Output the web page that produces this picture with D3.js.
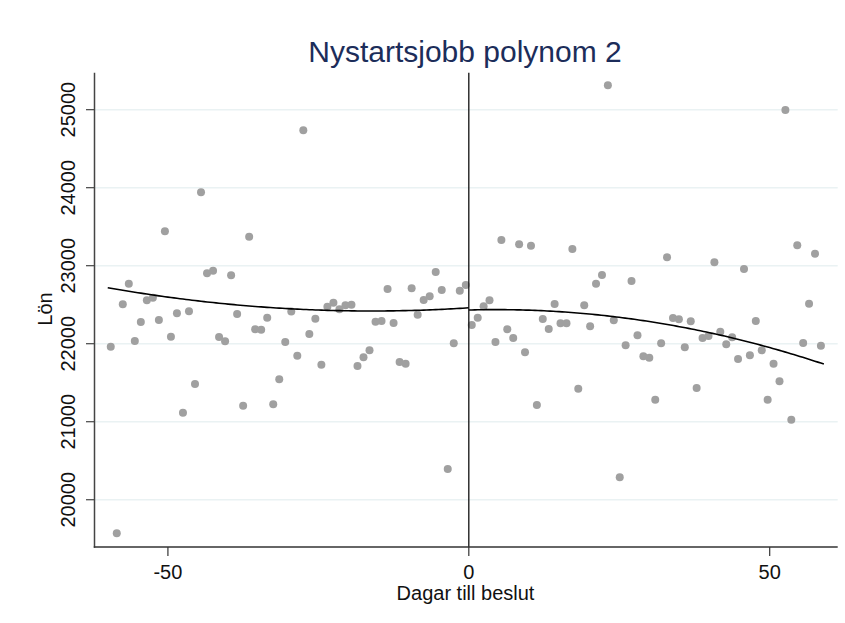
<!DOCTYPE html>
<html>
<head>
<meta charset="utf-8">
<script src="https://cdn.jsdelivr.net/npm/d3@7/dist/d3.min.js"></script>
<style>
  body { margin: 0; background: #fff; }
  svg text { font-family: "Liberation Sans", Arial, sans-serif; }
</style>
</head>
<body>
<svg id="chart" width="845" height="623"></svg>
<script>
// Binned means
const leftDays = [
    -59.5, -58.5, -57.5, -56.5, -55.5, -54.5, -53.5, -52.5, -51.5, -50.5,
    -49.5, -48.5, -47.5, -46.5, -45.5, -44.5, -43.5, -42.5, -41.5, -40.5,
    -39.5, -38.5, -37.5, -36.5, -35.5, -34.5, -33.5, -32.5, -31.5, -30.5,
    -29.5, -28.5, -27.5, -26.5, -25.5, -24.5, -23.5, -22.5, -21.5, -20.5,
    -19.5, -18.5, -17.5, -16.5, -15.5, -14.5, -13.5, -12.5, -11.5, -10.5,
    -9.5, -8.5, -7.5, -6.5, -5.5, -4.5, -3.5, -2.5, -1.5, -0.5
];
const leftWage = [
    21962, 19569, 22505, 22769, 22035, 22278, 22556, 22590, 22304, 23441,
    22090, 22390, 21115, 22415, 21483, 23941, 22903, 22936, 22086, 22031,
    22877, 22381, 21205, 23372, 22185, 22180, 22333, 21223, 21544, 22022,
    22412, 21846, 24736, 22124, 22321, 21731, 22474, 22526, 22441, 22492,
    22500, 21714, 21826, 21915, 22282, 22291, 22701, 22265, 21765, 21744,
    22710, 22372, 22560, 22608, 22919, 22688, 20394, 22005, 22679, 22752
];
const rightDays = [
    0.49, 1.48, 2.46, 3.44, 4.43, 5.41, 6.39, 7.38, 8.36, 9.34,
    10.33, 11.31, 12.29, 13.28, 14.26, 15.24, 16.23, 17.21, 18.19, 19.18,
    20.16, 21.14, 22.13, 23.11, 24.09, 25.08, 26.06, 27.04, 28.03, 29.01,
    29.99, 30.98, 31.96, 32.94, 33.93, 34.91, 35.89, 36.88, 37.86, 38.84,
    39.83, 40.81, 41.79, 42.78, 43.76, 44.74, 45.73, 46.71, 47.69, 48.68,
    49.66, 50.64, 51.63, 52.61, 53.59, 54.58, 55.56, 56.54, 57.53, 58.51
];
const rightWage = [
    22240, 22333, 22479, 22556, 22022, 23329, 22185, 22073, 23274, 21890,
    23256, 21214, 22317, 22188, 22509, 22261, 22261, 23214, 21423, 22492,
    22223, 22769, 22881, 25313, 22300, 20287, 21979, 22804, 22108, 21838,
    21821, 21282, 22005, 23108, 22329, 22313, 21954, 22287, 21432, 22073,
    22099, 23044, 22154, 21992, 22082, 21804, 22958, 21851, 22291, 21915,
    21282, 21744, 21518, 24996, 21026, 23262, 22009, 22513, 23154, 21974
];
// quadratic fits (fitted on the underlying data), coefficients:
// wage = c0 + c1*day + c2*day^2
const leftFit = [22460, 5.03, 0.1556];
const rightFit = [22432, 2.14, -0.2355];
const leftRange = [-60, 0];
const rightRange = [0, 59];
const xTicks = [-50, 0, 50];
const yTicks = [20000, 21000, 22000, 23000, 24000, 25000];

const svg = d3.select('#chart');
const plotLeft = 94.5, plotRight = 837.7, plotTop = 72.7, plotBottom = 547;

const x = d3.scaleLinear().domain([-62.2, 61.3]).range([plotLeft, plotRight]);
const y = d3.scaleLinear().domain([19394, 25474]).range([plotBottom, plotTop]);

// gridlines
svg.append('g').selectAll('line')
    .data(yTicks)
    .join('line')
    .attr('x1', plotLeft).attr('x2', plotRight)
    .attr('y1', d => y(d)).attr('y2', d => y(d))
    .attr('stroke', '#eaf2f3')
    .attr('stroke-width', 1.5);

// points
const pts = leftDays.map((d, i) => [d, leftWage[i]])
    .concat(rightDays.map((d, i) => [d, rightWage[i]]));
svg.append('g').selectAll('circle')
    .data(pts)
    .join('circle')
    .attr('cx', d => x(d[0]))
    .attr('cy', d => y(d[1]))
    .attr('r', 4)
    .attr('fill', '#a0a0a0');

// fitted curves
const line = d3.line().x(d => x(d[0])).y(d => y(d[1]));
[[leftFit, leftRange], [rightFit, rightRange]].forEach(([c, rng]) => {
    const f = v => c[0] + c[1] * v + c[2] * v * v;
    const grid = d3.range(rng[0], rng[1] + 0.001, 0.5);
    svg.append('path')
        .attr('d', line(grid.map(g => [g, f(g)])))
        .attr('fill', 'none')
        .attr('stroke', '#000')
        .attr('stroke-width', 1.6);
});

// cutoff line
svg.append('line')
    .attr('x1', x(0)).attr('x2', x(0))
    .attr('y1', plotTop).attr('y2', plotBottom)
    .attr('stroke', '#111')
    .attr('stroke-width', 1.3);

// axes
svg.append('line')
    .attr('x1', plotLeft).attr('x2', plotLeft).attr('y1', plotTop).attr('y2', plotBottom + 0.75)
    .attr('stroke', '#444').attr('stroke-width', 1.5);
svg.append('line')
    .attr('x1', plotLeft - 0.75).attr('x2', plotRight).attr('y1', plotBottom).attr('y2', plotBottom)
    .attr('stroke', '#333').attr('stroke-width', 1.5);

const yAxis = svg.append('g');
yAxis.selectAll('line')
    .data(yTicks)
    .join('line')
    .attr('x1', plotLeft - 8.5).attr('x2', plotLeft)
    .attr('y1', d => y(d)).attr('y2', d => y(d))
    .attr('stroke', '#444').attr('stroke-width', 1.2);
yAxis.selectAll('text')
    .data(yTicks)
    .join('text')
    .attr('transform', d => `translate(75,${y(d)}) rotate(-90)`)
    .attr('text-anchor', 'middle')
    .attr('font-size', 20)
    .attr('fill', '#111')
    .text(d => d);

const xAxis = svg.append('g');
xAxis.selectAll('line')
    .data(xTicks)
    .join('line')
    .attr('x1', d => x(d)).attr('x2', d => x(d))
    .attr('y1', plotBottom).attr('y2', plotBottom + 9)
    .attr('stroke', '#333').attr('stroke-width', 1.2);
xAxis.selectAll('text')
    .data(xTicks)
    .join('text')
    .attr('x', d => x(d))
    .attr('y', 579)
    .attr('text-anchor', 'middle')
    .attr('font-size', 20)
    .attr('fill', '#111')
    .text(d => d);

svg.append('text')
    .attr('x', 465.5).attr('y', 600)
    .attr('text-anchor', 'middle')
    .attr('font-size', 20)
    .attr('fill', '#111')
    .text('Dagar till beslut');

svg.append('text')
    .attr('transform', 'translate(51.7,309) rotate(-90)')
    .attr('text-anchor', 'middle')
    .attr('font-size', 20)
    .attr('fill', '#111')
    .text('Lön');

svg.append('text')
    .attr('x', 465).attr('y', 61.5)
    .attr('text-anchor', 'middle')
    .attr('font-size', 30)
    .attr('fill', '#1c2d5a')
    .text('Nystartsjobb polynom 2');
</script>
</body>
</html>
